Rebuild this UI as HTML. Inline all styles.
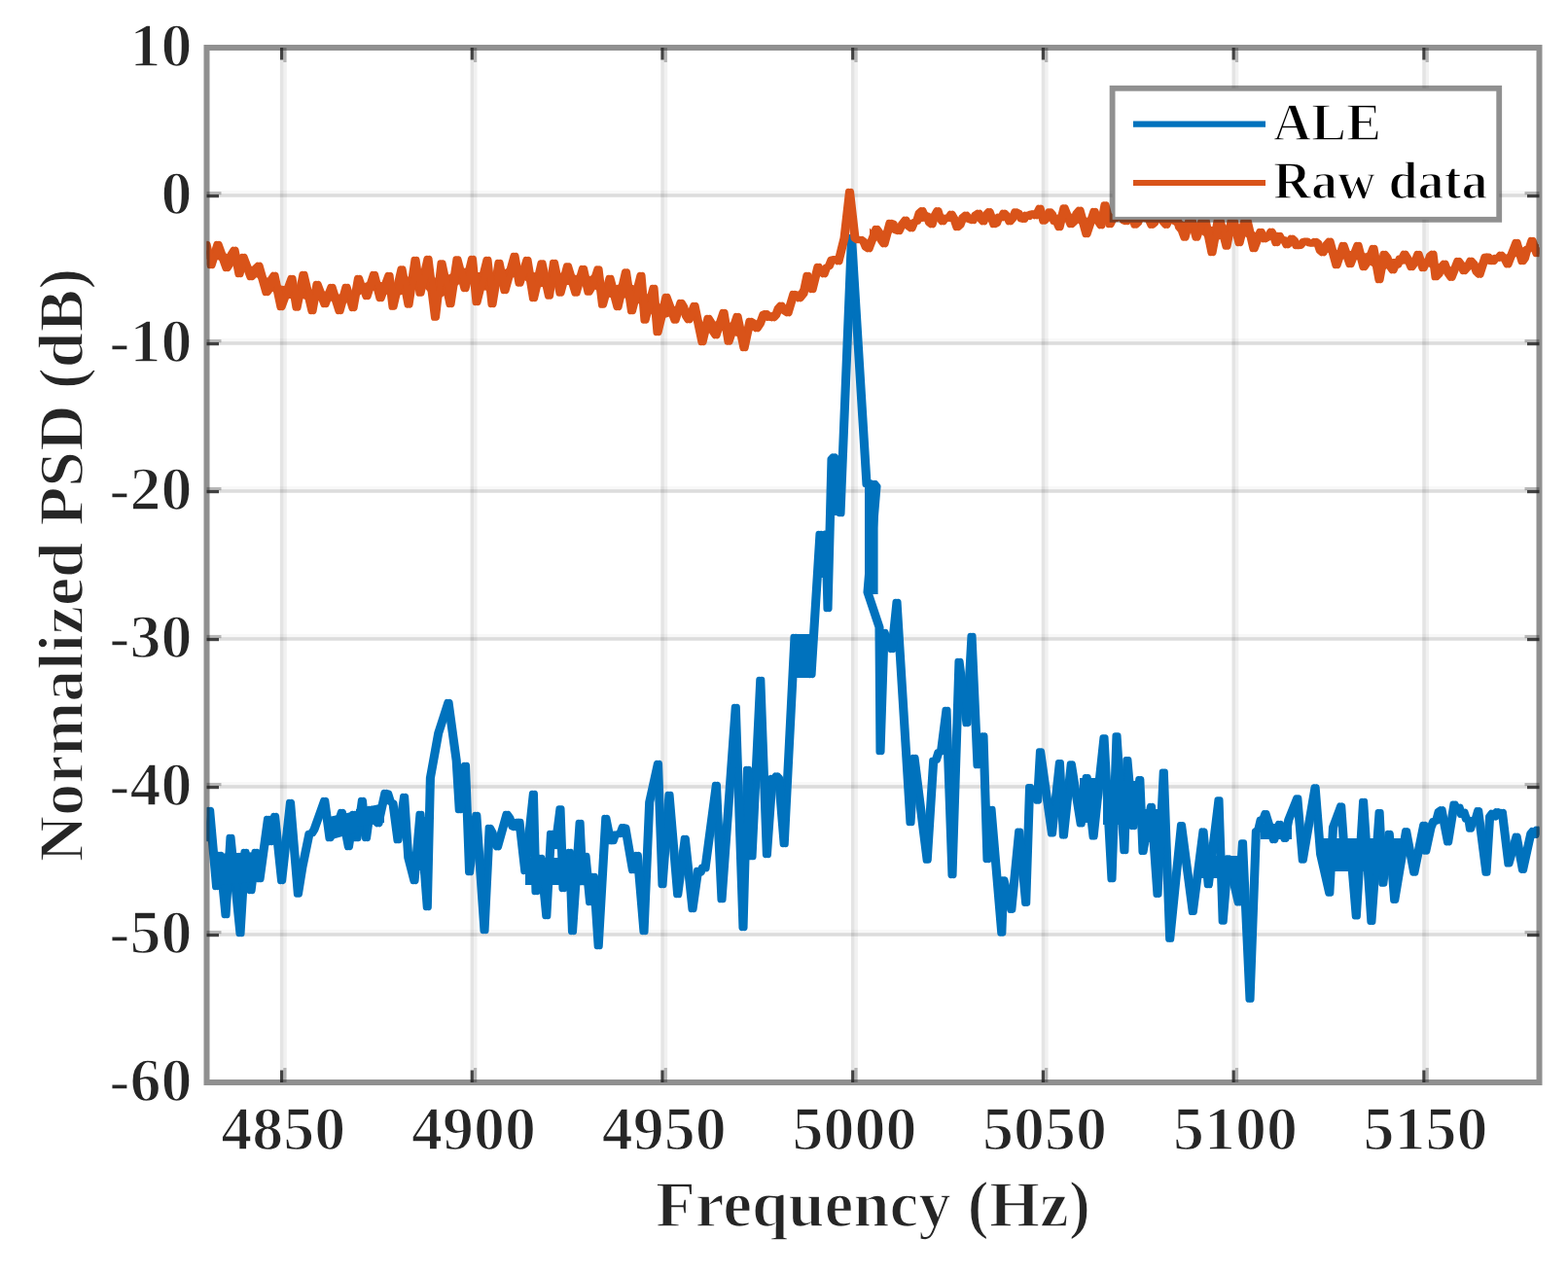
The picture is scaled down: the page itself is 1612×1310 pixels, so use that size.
<!DOCTYPE html>
<html><head><meta charset="utf-8"><title>Normalized PSD</title><style>
html,body{margin:0;padding:0;background:#fff;}
svg{display:block;}
.gv{stroke:#262626;stroke-opacity:0.124;stroke-width:3.4;}
.gl{stroke:#262626;stroke-opacity:0.065;stroke-width:3.6;}
.gd{stroke:#262626;stroke-opacity:0.16;stroke-width:3.6;}
.gl2{stroke:#262626;stroke-opacity:0.03;stroke-width:3.4;}
.t{stroke:#262626;stroke-opacity:0.85;stroke-width:3.2;}
.tl{stroke:#262626;stroke-opacity:0.3;stroke-width:3.2;}
.o{fill:none;stroke:#D95319;stroke-width:6.5;stroke-linejoin:round;}
.b{fill:none;stroke:#0072BD;stroke-width:6.5;stroke-linejoin:round;}
text{font-family:"Liberation Serif","Times New Roman",serif;font-weight:bold;fill:#262626;stroke:#fff;stroke-width:1.6px;paint-order:fill;}
.xl{font-size:64px;text-anchor:middle;}
.yl{font-size:64px;text-anchor:end;}
.lab{font-size:67px;text-anchor:middle;}
.laby{font-size:65.8px;text-anchor:middle;}
.lg{font-size:54px;fill:#000;}
</style></head><body>
<svg width="1612" height="1310" viewBox="0 0 1612 1310">
<rect width="1612" height="1310" fill="#fff"/>
<line x1="293.0" y1="49.0" x2="293.0" y2="1113.0" class="gl"/><line x1="289.6" y1="49.0" x2="289.6" y2="1113.0" class="gv"/><line x1="488.7" y1="49.0" x2="488.7" y2="1113.0" class="gl"/><line x1="485.3" y1="49.0" x2="485.3" y2="1113.0" class="gv"/><line x1="684.4" y1="49.0" x2="684.4" y2="1113.0" class="gl"/><line x1="681.0" y1="49.0" x2="681.0" y2="1113.0" class="gv"/><line x1="880.1" y1="49.0" x2="880.1" y2="1113.0" class="gl"/><line x1="876.7" y1="49.0" x2="876.7" y2="1113.0" class="gv"/><line x1="1075.8" y1="49.0" x2="1075.8" y2="1113.0" class="gl"/><line x1="1072.4" y1="49.0" x2="1072.4" y2="1113.0" class="gv"/><line x1="1271.6" y1="49.0" x2="1271.6" y2="1113.0" class="gl"/><line x1="1268.2" y1="49.0" x2="1268.2" y2="1113.0" class="gv"/><line x1="1467.3" y1="49.0" x2="1467.3" y2="1113.0" class="gl"/><line x1="1463.9" y1="49.0" x2="1463.9" y2="1113.0" class="gv"/><line x1="212.5" y1="197.7" x2="1582.5" y2="197.7" class="gl2"/><line x1="212.5" y1="201.0" x2="1582.5" y2="201.0" class="gd"/><line x1="212.5" y1="349.7" x2="1582.5" y2="349.7" class="gl2"/><line x1="212.5" y1="353.0" x2="1582.5" y2="353.0" class="gd"/><line x1="212.5" y1="501.7" x2="1582.5" y2="501.7" class="gl2"/><line x1="212.5" y1="505.0" x2="1582.5" y2="505.0" class="gd"/><line x1="212.5" y1="653.7" x2="1582.5" y2="653.7" class="gl2"/><line x1="212.5" y1="657.0" x2="1582.5" y2="657.0" class="gd"/><line x1="212.5" y1="805.7" x2="1582.5" y2="805.7" class="gl2"/><line x1="212.5" y1="809.0" x2="1582.5" y2="809.0" class="gd"/><line x1="212.5" y1="957.7" x2="1582.5" y2="957.7" class="gl2"/><line x1="212.5" y1="961.0" x2="1582.5" y2="961.0" class="gd"/>
<clipPath id="c"><rect x="212.5" y="49.0" width="1370.0" height="1064.0"/></clipPath>
<g clip-path="url(#c)"><g transform="translate(-1.3,0)"><polyline points="210.0,862.0 212.0,862.0 215.6,833.0 222.6,912.0 226.0,879.0 232.0,941.0 237.0,861.0 247.0,960.0 252.0,876.0 258.0,916.0 263.0,876.0 267.0,904.0 275.5,842.0 278.0,866.0 282.6,839.0 289.6,906.0 298.5,825.0 306.4,919.5 311.0,891.0 318.0,857.0 320.5,857.0 323.0,853.0 333.7,823.0 339.0,862.0 341.5,853.8 344.0,853.9 346.4,843.7 348.9,842.8 351.4,835.0 358.4,871.0 363.7,837.0 367.0,862.0 372.4,823.0 376.5,862.0 380.6,832.0 383.4,834.7 386.1,844.6 388.9,847.0 396.0,815.0 398.7,815.9 401.3,824.2 404.0,826.0 409.0,864.0 415.6,819.0 419.8,882.0 426.0,906.0 432.0,837.0 439.3,933.0 442.4,800.0 450.7,754.0 461.0,722.0 469.2,782.0 472.3,833.0 478.5,787.0 482.6,897.0 489.8,838.0 498.0,957.0 503.2,851.0 506.0,855.8 508.7,867.1 511.5,871.0 521.0,837.0 524.0,841.2 527.0,850.0 529.3,851.0 531.7,844.9 534.0,845.0 539.8,896.0 548.4,816.0 551.0,917.0 556.0,882.0 561.8,942.0 566.5,857.0 571.0,870.0 576.0,831.5 579.0,914.0 585.6,876.0 588.5,958.0 596.1,846.0 599.0,907.0 602.0,880.0 606.6,928.0 610.4,901.0 615.2,973.0 622.8,841.0 627.6,865.0 630.1,865.0 632.5,857.7 635.0,858.0 637.6,857.7 640.3,850.4 642.9,851.0 650.5,895.0 655.3,879.0 662.0,958.0 667.7,825.0 676.5,785.0 681.0,910.0 688.0,817.0 696.7,920.0 704.3,862.0 712.0,935.0 717.6,895.0 720.1,897.2 722.5,891.8 725.0,893.0 736.4,807.0 742.0,925.0 756.3,727.0 764.0,954.0 768.5,791.0 773.0,881.0 781.8,699.0 788.4,879.0 794.0,800.0 796.2,801.8 798.4,797.6 800.6,800.0 806.2,868.0 817.0,655.0 819.4,663.5 821.9,663.9 824.3,673.8 826.7,675.0 829.1,684.7 831.6,686.4 834.0,694.0 843.0,549.0 846.0,551.3 849.0,549.0 851.0,626.0 855.0,472.0 857.3,469.6 859.7,474.1 862.0,472.0 864.0,528.0 875.5,244.0 891.0,498.0 893.5,496.4 896.0,501.1 898.5,497.1 901.0,500.0 892.0,609.0 904.0,645.0 905.0,773.0 909.0,650.0 911.7,658.1 914.3,660.2 917.0,668.0 922.0,619.0 936.0,846.0 940.0,779.0 953.2,884.5 959.7,782.0 962.3,781.8 964.9,773.5 967.5,773.0 973.0,730.0 979.0,900.0 986.0,680.0 994.0,744.0 999.0,654.0 1005.0,787.0 1011.0,756.5 1015.0,884.0 1019.0,832.0 1029.8,959.4 1031.8,904.4 1039.8,935.6 1047.7,854.8 1054.7,928.7 1058.6,809.2 1061.3,816.5 1063.9,816.7 1066.6,823.5 1069.5,772.4 1081.5,857.3 1089.4,784.3 1093.4,859.3 1101.3,785.4 1111.2,847.3 1117.2,799.2 1124.1,860.3 1135.0,758.5 1143.0,904.0 1148.0,756.5 1155.9,875.1 1158.9,781.3 1165.0,850.0 1171.8,801.2 1175.0,875.8 1183.5,829.0 1190.0,919.7 1196.3,793.7 1202.7,965.6 1214.5,848.2 1226.3,937.8 1237.0,854.6 1242.3,910.0 1253.0,822.5 1257.2,947.5 1262.6,882.4 1273.3,928.3 1277.5,866.4 1285.0,1027.6 1291.4,854.6 1293.8,853.0 1296.2,842.7 1298.6,842.9 1301.0,836.4 1309.6,864.0 1315.5,847.0 1321.0,862.7 1324.7,843.3 1333.8,820.5 1339.3,884.5 1352.1,809.5 1357.6,878.2 1366.8,918.5 1370.5,850.7 1378.7,828.7 1383.3,892.0 1387.9,866.3 1394.3,942.3 1401.6,824.1 1409.9,947.8 1418.1,835.2 1421.8,908.5 1428.2,857.1 1433.7,925.8 1445.6,854.4 1453.8,897.5 1463.8,848.0 1465.7,875.5 1471.0,851.0 1473.8,844.2 1476.5,844.4 1479.2,834.4 1482.0,832.4 1488.6,866.3 1495.0,826.8 1497.5,832.4 1500.0,829.9 1502.5,837.7 1505.0,835.0 1507.5,842.5 1510.0,843.0 1511.5,852.5 1514.2,843.6 1517.0,842.6 1519.7,833.3 1528.0,897.5 1531.6,839.7 1534.2,836.0 1536.7,840.3 1539.3,834.5 1541.8,837.9 1544.4,835.2 1550.9,888.3 1559.1,859.9 1565.5,894.7 1573.8,857.1 1576.1,854.3 1578.3,858.5 1580.6,852.8 1582.9,854.4 1585.3,855.6 1587.6,850.3 1590.0,852.0" class="b"/></g><g transform="translate(1.3,0)"><polyline points="210.0,862.0 212.0,862.0 215.6,833.0 222.6,912.0 226.0,879.0 232.0,941.0 237.0,861.0 247.0,960.0 252.0,876.0 258.0,916.0 263.0,876.0 267.0,904.0 275.5,842.0 278.0,866.0 282.6,839.0 289.6,906.0 298.5,825.0 306.4,919.5 311.0,891.0 318.0,857.0 320.5,857.0 323.0,853.0 333.7,823.0 339.0,862.0 341.5,853.8 344.0,853.9 346.4,843.7 348.9,842.8 351.4,835.0 358.4,871.0 363.7,837.0 367.0,862.0 372.4,823.0 376.5,862.0 380.6,832.0 383.4,834.7 386.1,844.6 388.9,847.0 396.0,815.0 398.7,815.9 401.3,824.2 404.0,826.0 409.0,864.0 415.6,819.0 419.8,882.0 426.0,906.0 432.0,837.0 439.3,933.0 442.4,800.0 450.7,754.0 461.0,722.0 469.2,782.0 472.3,833.0 478.5,787.0 482.6,897.0 489.8,838.0 498.0,957.0 503.2,851.0 506.0,855.8 508.7,867.1 511.5,871.0 521.0,837.0 524.0,841.2 527.0,850.0 529.3,851.0 531.7,844.9 534.0,845.0 539.8,896.0 548.4,816.0 551.0,917.0 556.0,882.0 561.8,942.0 566.5,857.0 571.0,870.0 576.0,831.5 579.0,914.0 585.6,876.0 588.5,958.0 596.1,846.0 599.0,907.0 602.0,880.0 606.6,928.0 610.4,901.0 615.2,973.0 622.8,841.0 627.6,865.0 630.1,865.0 632.5,857.7 635.0,858.0 637.6,857.7 640.3,850.4 642.9,851.0 650.5,895.0 655.3,879.0 662.0,958.0 667.7,825.0 676.5,785.0 681.0,910.0 688.0,817.0 696.7,920.0 704.3,862.0 712.0,935.0 717.6,895.0 720.1,897.2 722.5,891.8 725.0,893.0 736.4,807.0 742.0,925.0 756.3,727.0 764.0,954.0 768.5,791.0 773.0,881.0 781.8,699.0 788.4,879.0 794.0,800.0 796.2,801.8 798.4,797.6 800.6,800.0 806.2,868.0 817.0,655.0 819.4,663.5 821.9,663.9 824.3,673.8 826.7,675.0 829.1,684.7 831.6,686.4 834.0,694.0 843.0,549.0 846.0,551.3 849.0,549.0 851.0,626.0 855.0,472.0 857.3,469.6 859.7,474.1 862.0,472.0 864.0,528.0 875.5,244.0 891.0,498.0 893.5,496.4 896.0,501.1 898.5,497.1 901.0,500.0 892.0,609.0 904.0,645.0 905.0,773.0 909.0,650.0 911.7,658.1 914.3,660.2 917.0,668.0 922.0,619.0 936.0,846.0 940.0,779.0 953.2,884.5 959.7,782.0 962.3,781.8 964.9,773.5 967.5,773.0 973.0,730.0 979.0,900.0 986.0,680.0 994.0,744.0 999.0,654.0 1005.0,787.0 1011.0,756.5 1015.0,884.0 1019.0,832.0 1029.8,959.4 1031.8,904.4 1039.8,935.6 1047.7,854.8 1054.7,928.7 1058.6,809.2 1061.3,816.5 1063.9,816.7 1066.6,823.5 1069.5,772.4 1081.5,857.3 1089.4,784.3 1093.4,859.3 1101.3,785.4 1111.2,847.3 1117.2,799.2 1124.1,860.3 1135.0,758.5 1143.0,904.0 1148.0,756.5 1155.9,875.1 1158.9,781.3 1165.0,850.0 1171.8,801.2 1175.0,875.8 1183.5,829.0 1190.0,919.7 1196.3,793.7 1202.7,965.6 1214.5,848.2 1226.3,937.8 1237.0,854.6 1242.3,910.0 1253.0,822.5 1257.2,947.5 1262.6,882.4 1273.3,928.3 1277.5,866.4 1285.0,1027.6 1291.4,854.6 1293.8,853.0 1296.2,842.7 1298.6,842.9 1301.0,836.4 1309.6,864.0 1315.5,847.0 1321.0,862.7 1324.7,843.3 1333.8,820.5 1339.3,884.5 1352.1,809.5 1357.6,878.2 1366.8,918.5 1370.5,850.7 1378.7,828.7 1383.3,892.0 1387.9,866.3 1394.3,942.3 1401.6,824.1 1409.9,947.8 1418.1,835.2 1421.8,908.5 1428.2,857.1 1433.7,925.8 1445.6,854.4 1453.8,897.5 1463.8,848.0 1465.7,875.5 1471.0,851.0 1473.8,844.2 1476.5,844.4 1479.2,834.4 1482.0,832.4 1488.6,866.3 1495.0,826.8 1497.5,832.4 1500.0,829.9 1502.5,837.7 1505.0,835.0 1507.5,842.5 1510.0,843.0 1511.5,852.5 1514.2,843.6 1517.0,842.6 1519.7,833.3 1528.0,897.5 1531.6,839.7 1534.2,836.0 1536.7,840.3 1539.3,834.5 1541.8,837.9 1544.4,835.2 1550.9,888.3 1559.1,859.9 1565.5,894.7 1573.8,857.1 1576.1,854.3 1578.3,858.5 1580.6,852.8 1582.9,854.4 1585.3,855.6 1587.6,850.3 1590.0,852.0" class="b"/></g><polygon points="815.0,652.0 835.0,652.0 835.0,697.0 815.0,697.0" fill="#0072BD"/><polygon points="840.6,547.0 852.4,547.0 855.0,628.0 848.0,628.0 846.0,594.0 840.6,594.0" fill="#0072BD"/><polygon points="852.4,469.0 866.0,469.0 866.0,530.0 852.4,530.0" fill="#0072BD"/><polygon points="889.0,498.0 902.6,498.0 902.6,611.0 889.0,611.0" fill="#0072BD"/><polygon points="218.0,878.0 270.0,876.0 270.0,906.0 218.0,911.0" fill="#0072BD"/><polygon points="338.0,840.0 366.0,834.0 366.0,856.0 338.0,864.0" fill="#0072BD"/><polygon points="366.0,832.0 395.0,826.0 395.0,846.0 366.0,850.0" fill="#0072BD"/><polygon points="428.0,840.0 444.0,840.0 444.0,895.0 428.0,895.0" fill="#0072BD"/><polygon points="540.0,882.0 606.0,882.0 606.0,910.0 540.0,910.0" fill="#0072BD"/><polygon points="1134.0,803.0 1174.0,803.0 1174.0,848.0 1134.0,848.0" fill="#0072BD"/><polygon points="1232.0,880.0 1280.0,880.0 1280.0,903.0 1232.0,903.0" fill="#0072BD"/><polygon points="1110.0,800.0 1128.0,800.0 1128.0,846.0 1110.0,846.0" fill="#0072BD"/><polygon points="1296.0,847.0 1328.0,847.0 1328.0,863.0 1296.0,863.0" fill="#0072BD"/><polygon points="1360.0,862.0 1440.0,862.0 1440.0,896.0 1360.0,896.0" fill="#0072BD"/><polygon points="1176.0,832.0 1200.0,832.0 1200.0,866.0 1176.0,866.0" fill="#0072BD"/><polygon points="212.0,257.6 214.0,257.6 216.0,257.6 218.0,257.7 220.0,257.8 222.0,257.9 224.0,258.0 226.0,258.6 228.0,259.2 230.0,259.8 232.0,260.4 234.0,261.1 236.0,261.9 238.0,262.7 240.0,263.4 242.0,264.5 244.0,265.9 246.0,267.2 248.0,268.5 250.0,269.7 252.0,270.6 254.0,271.6 256.0,272.5 258.0,273.4 260.0,274.8 262.0,276.2 264.0,277.6 266.0,279.0 268.0,280.5 270.0,281.9 272.0,283.4 274.0,284.9 276.0,286.4 278.0,287.9 280.0,289.3 282.0,290.8 284.0,291.6 286.0,292.5 288.0,293.3 290.0,293.8 292.0,294.1 294.0,294.3 296.0,294.6 298.0,294.9 300.0,295.1 302.0,294.7 304.0,294.2 306.0,293.8 308.0,293.5 310.0,293.1 312.0,292.8 314.0,293.9 316.0,295.1 318.0,296.2 320.0,297.3 322.0,298.2 324.0,298.9 326.0,299.6 328.0,299.5 330.0,299.5 332.0,299.5 334.0,299.4 336.0,300.0 338.0,300.5 340.0,301.1 342.0,301.5 344.0,301.8 346.0,302.1 348.0,302.4 350.0,302.4 352.0,302.3 354.0,302.2 356.0,302.1 358.0,300.9 360.0,299.8 362.0,298.6 364.0,297.3 366.0,295.8 368.0,294.3 370.0,293.2 372.0,292.4 374.0,291.5 376.0,290.6 378.0,290.1 380.0,289.8 382.0,289.6 384.0,289.3 386.0,289.4 388.0,289.5 390.0,289.7 392.0,290.0 394.0,290.5 396.0,291.0 398.0,291.5 400.0,292.0 402.0,291.7 404.0,291.4 406.0,290.6 408.0,289.8 410.0,289.0 412.0,288.2 414.0,287.3 416.0,286.3 418.0,285.3 420.0,284.3 422.0,282.7 424.0,281.2 426.0,279.6 428.0,278.5 430.0,277.8 432.0,277.1 434.0,277.9 436.0,278.8 438.0,279.7 440.0,280.5 442.0,281.9 444.0,283.4 446.0,284.8 448.0,285.8 450.0,285.7 452.0,285.7 454.0,285.6 456.0,284.7 458.0,283.9 460.0,283.0 462.0,282.1 464.0,281.2 466.0,280.2 468.0,279.2 470.0,278.2 472.0,277.5 474.0,276.8 476.0,276.2 478.0,275.5 480.0,276.1 482.0,276.8 484.0,277.4 486.0,278.1 488.0,278.9 490.0,279.7 492.0,279.9 494.0,280.0 496.0,280.2 498.0,280.4 500.0,280.5 502.0,280.8 504.0,281.2 506.0,281.7 508.0,281.4 510.0,281.1 512.0,280.8 514.0,280.0 516.0,278.8 518.0,277.5 520.0,276.4 522.0,275.5 524.0,274.6 526.0,273.7 528.0,272.8 530.0,272.4 532.0,272.5 534.0,272.6 536.0,273.7 538.0,274.8 540.0,275.8 542.0,276.9 544.0,277.9 546.0,278.9 548.0,279.8 550.0,280.2 552.0,280.5 554.0,280.7 556.0,280.9 558.0,281.0 560.0,280.8 562.0,280.7 564.0,280.5 566.0,280.3 568.0,280.1 570.0,280.0 572.0,280.2 574.0,280.4 576.0,280.6 578.0,280.9 580.0,281.3 582.0,281.6 584.0,282.0 586.0,282.2 588.0,282.4 590.0,282.6 592.0,282.8 594.0,283.0 596.0,283.2 598.0,283.3 600.0,283.5 602.0,283.5 604.0,283.5 606.0,283.8 608.0,284.3 610.0,284.9 612.0,285.5 614.0,286.1 616.0,287.2 618.0,288.9 620.0,290.4 622.0,291.6 624.0,292.8 626.0,294.0 628.0,294.4 630.0,293.9 632.0,293.5 634.0,293.0 636.0,292.6 638.0,292.2 640.0,291.8 642.0,291.4 644.0,291.3 646.0,291.8 648.0,292.2 650.0,292.8 652.0,293.5 654.0,294.3 656.0,295.0 658.0,295.7 660.0,297.0 662.0,298.8 664.0,300.7 666.0,302.7 668.0,304.7 670.0,306.7 672.0,308.6 674.0,310.2 676.0,311.7 678.0,312.3 680.0,312.8 682.0,313.4 684.0,313.9 686.0,314.3 688.0,314.4 690.0,314.6 692.0,314.7 694.0,314.9 696.0,315.4 698.0,315.9 700.0,316.5 702.0,316.8 704.0,317.0 706.0,317.3 708.0,317.6 710.0,318.9 712.0,320.2 714.0,321.5 716.0,323.7 718.0,326.0 720.0,328.3 722.0,330.6 724.0,331.6 726.0,332.6 728.0,333.6 730.0,332.8 732.0,331.9 734.0,331.1 736.0,330.3 738.0,330.1 740.0,329.9 742.0,329.6 744.0,329.4 746.0,330.1 748.0,330.8 750.0,331.5 752.0,332.1 754.0,332.8 756.0,333.4 758.0,334.0 760.0,334.8 762.0,335.6 764.0,336.4 766.0,336.6 768.0,336.2 770.0,335.8 772.0,334.8 774.0,333.2 776.0,331.6 778.0,329.9 780.0,328.9 782.0,327.8 784.0,326.7 786.0,325.6 788.0,324.5 790.0,323.4 792.0,322.3 794.0,321.2 796.0,320.2 798.0,319.4 800.0,318.4 802.0,317.6 804.0,316.4 806.0,314.9 808.0,313.4 810.0,311.9 812.0,309.8 814.0,307.8 816.0,305.8 818.0,303.1 820.0,300.4 822.0,297.8 824.0,295.5 826.0,293.2 828.0,290.9 830.0,288.5 832.0,287.0 834.0,285.4 836.0,283.7 838.0,281.7 840.0,279.8 842.0,278.1 844.0,276.6 846.0,275.1 848.0,273.7 850.0,272.5 852.0,271.2 854.0,270.0 854.0,273.4 852.0,274.9 850.0,276.4 848.0,277.9 846.0,279.8 844.0,281.9 842.0,284.1 840.0,286.4 838.0,288.7 836.0,291.1 834.0,293.0 832.0,294.5 830.0,295.9 828.0,297.7 826.0,299.5 824.0,301.3 822.0,303.1 820.0,305.6 818.0,308.2 816.0,310.8 814.0,313.1 812.0,315.4 810.0,317.7 808.0,318.7 806.0,319.7 804.0,320.7 802.0,321.6 800.0,322.4 798.0,323.1 796.0,323.9 794.0,324.9 792.0,326.1 790.0,327.3 788.0,328.5 786.0,329.7 784.0,330.9 782.0,332.1 780.0,333.3 778.0,334.6 776.0,337.0 774.0,339.5 772.0,341.9 770.0,344.1 768.0,346.0 766.0,347.9 764.0,348.5 762.0,347.7 760.0,346.9 758.0,346.1 756.0,345.4 754.0,344.6 752.0,343.9 750.0,343.1 748.0,342.3 746.0,341.5 744.0,340.6 742.0,340.1 740.0,339.6 738.0,339.2 736.0,338.7 734.0,339.6 732.0,340.6 730.0,341.5 728.0,342.4 726.0,342.5 724.0,342.7 722.0,342.8 720.0,340.0 718.0,337.1 716.0,334.3 714.0,331.4 712.0,329.0 710.0,326.5 708.0,324.1 706.0,324.0 704.0,324.0 702.0,323.9 700.0,323.8 698.0,323.6 696.0,323.4 694.0,323.2 692.0,324.0 690.0,324.7 688.0,325.4 686.0,326.2 684.0,326.8 682.0,327.4 680.0,327.9 678.0,328.5 676.0,329.0 674.0,327.3 672.0,325.5 670.0,323.6 668.0,321.6 666.0,319.7 664.0,317.7 662.0,316.0 660.0,314.4 658.0,313.0 656.0,311.9 654.0,310.8 652.0,309.7 650.0,308.5 648.0,307.9 646.0,307.3 644.0,306.8 642.0,306.6 640.0,306.4 638.0,306.3 636.0,306.1 634.0,306.1 632.0,306.1 630.0,306.1 628.0,306.1 626.0,305.7 624.0,305.0 622.0,304.3 620.0,303.6 618.0,302.2 616.0,300.4 614.0,298.9 612.0,297.7 610.0,296.4 608.0,295.1 606.0,293.8 604.0,293.2 602.0,293.3 600.0,293.4 598.0,293.5 596.0,293.5 594.0,293.5 592.0,293.5 590.0,293.4 588.0,293.3 586.0,293.2 584.0,293.1 582.0,293.0 580.0,292.8 578.0,292.7 576.0,292.5 574.0,292.8 572.0,293.0 570.0,293.2 568.0,293.5 566.0,293.9 564.0,294.3 562.0,294.5 560.0,294.8 558.0,295.0 556.0,295.2 554.0,295.2 552.0,295.3 550.0,295.4 548.0,295.0 546.0,293.4 544.0,291.8 542.0,290.1 540.0,288.5 538.0,286.8 536.0,285.1 534.0,283.4 532.0,283.9 530.0,284.4 528.0,285.2 526.0,286.1 524.0,287.1 522.0,288.1 520.0,289.0 518.0,290.4 516.0,292.2 514.0,293.9 512.0,295.5 510.0,296.9 508.0,298.2 506.0,299.6 504.0,299.2 502.0,298.9 500.0,298.7 498.0,298.4 496.0,298.2 494.0,298.0 492.0,297.8 490.0,297.6 488.0,295.9 486.0,294.2 484.0,292.6 482.0,291.0 480.0,289.4 478.0,287.8 476.0,289.3 474.0,290.8 472.0,292.3 470.0,293.8 468.0,295.5 466.0,297.1 464.0,298.8 462.0,300.3 460.0,301.6 458.0,303.0 456.0,304.4 454.0,305.7 452.0,306.8 450.0,307.8 448.0,308.8 446.0,307.2 444.0,304.8 442.0,302.3 440.0,299.9 438.0,297.7 436.0,295.5 434.0,293.2 432.0,291.0 430.0,292.5 428.0,293.9 426.0,295.6 424.0,297.4 422.0,299.2 420.0,301.0 418.0,301.6 416.0,302.1 414.0,302.7 412.0,303.2 410.0,303.7 408.0,304.2 406.0,304.7 404.0,305.1 402.0,304.5 400.0,303.9 398.0,303.0 396.0,302.0 394.0,301.1 392.0,300.1 390.0,299.5 388.0,299.3 386.0,299.0 384.0,298.8 382.0,298.8 380.0,298.7 378.0,298.7 376.0,299.3 374.0,300.7 372.0,302.0 370.0,303.4 368.0,304.8 366.0,306.4 364.0,308.1 362.0,309.3 360.0,310.0 358.0,310.7 356.0,311.4 354.0,311.8 352.0,312.0 350.0,312.4 348.0,312.2 346.0,311.5 344.0,310.9 342.0,310.2 340.0,309.5 338.0,308.7 336.0,308.0 334.0,307.2 332.0,307.8 330.0,308.4 328.0,309.1 326.0,309.7 324.0,310.0 322.0,310.4 320.0,310.2 318.0,309.4 316.0,308.7 314.0,308.0 312.0,307.2 310.0,307.1 308.0,307.0 306.0,306.9 304.0,306.9 302.0,307.1 300.0,307.2 298.0,307.1 296.0,307.0 294.0,306.8 292.0,306.7 290.0,306.5 288.0,305.7 286.0,304.2 284.0,302.7 282.0,301.2 280.0,299.4 278.0,297.6 276.0,295.9 274.0,294.1 272.0,292.3 270.0,290.6 268.0,288.8 266.0,287.0 264.0,285.3 262.0,283.5 260.0,281.8 258.0,280.1 256.0,279.4 254.0,278.7 252.0,278.0 250.0,277.3 248.0,276.5 246.0,275.7 244.0,274.6 242.0,273.4 240.0,272.5 238.0,271.6 236.0,270.7 234.0,269.9 232.0,269.2 230.0,268.7 228.0,268.3 226.0,267.8 224.0,267.3 222.0,267.1 220.0,266.8 218.0,266.5 216.0,266.4 214.0,266.4 212.0,266.4" fill="#D95319"/><polygon points="894.0,234.4 896.0,236.2 898.0,237.9 900.0,239.7 902.0,240.2 904.0,239.4 906.0,238.6 908.0,237.8 910.0,236.8 912.0,235.7 914.0,234.6 916.0,233.6 918.0,232.9 920.0,232.1 922.0,231.3 924.0,230.5 926.0,230.1 928.0,229.7 930.0,229.3 932.0,228.7 934.0,227.7 936.0,226.8 938.0,225.9 940.0,225.0 942.0,224.1 944.0,223.2 946.0,222.3 948.0,221.4 950.0,221.3 952.0,221.2 954.0,221.1 956.0,221.0 958.0,220.8 960.0,220.7 962.0,220.5 964.0,220.4 966.0,220.5 968.0,220.7 970.0,221.1 972.0,221.7 974.0,222.3 976.0,222.9 978.0,223.5 980.0,223.8 982.0,224.1 984.0,224.5 986.0,224.3 988.0,224.1 990.0,224.0 992.0,223.8 994.0,223.5 996.0,223.0 998.0,222.5 1000.0,222.0 1002.0,221.9 1004.0,221.7 1006.0,221.6 1008.0,221.4 1010.0,221.3 1012.0,221.2 1014.0,221.2 1016.0,221.2 1018.0,221.3 1020.0,221.6 1022.0,221.9 1024.0,221.9 1026.0,222.0 1028.0,222.0 1030.0,222.0 1032.0,222.0 1034.0,221.8 1036.0,221.5 1038.0,221.2 1040.0,220.8 1042.0,220.5 1044.0,220.2 1046.0,220.3 1048.0,220.3 1050.0,220.4 1052.0,220.5 1054.0,220.6 1056.0,220.7 1058.0,220.8 1060.0,220.9 1062.0,219.8 1064.0,218.8 1066.0,218.0 1068.0,217.5 1070.0,217.7 1072.0,218.6 1074.0,219.4 1076.0,220.1 1078.0,220.9 1080.0,221.2 1082.0,221.0 1084.0,220.9 1086.0,220.8 1088.0,220.6 1090.0,220.3 1092.0,219.8 1094.0,219.3 1096.0,219.3 1098.0,219.4 1100.0,219.5 1102.0,219.8 1104.0,220.4 1106.0,221.0 1108.0,221.6 1110.0,222.2 1112.0,222.7 1114.0,223.1 1116.0,223.6 1118.0,223.7 1120.0,223.4 1122.0,223.2 1124.0,222.9 1126.0,222.2 1128.0,221.0 1130.0,219.8 1132.0,218.6 1134.0,217.7 1136.0,216.8 1138.0,217.6 1140.0,218.4 1142.0,219.1 1144.0,219.9 1146.0,220.6 1148.0,221.4 1150.0,222.1 1152.0,222.0 1154.0,221.9 1156.0,221.8 1158.0,221.7 1160.0,221.9 1162.0,222.2 1164.0,222.4 1166.0,222.6 1168.0,222.8 1170.0,222.8 1172.0,222.8 1174.0,222.8 1176.0,222.8 1178.0,222.8 1180.0,222.8 1182.0,222.8 1184.0,222.8 1186.0,222.8 1188.0,222.8 1190.0,222.8 1192.0,222.8 1194.0,222.8 1196.0,222.8 1198.0,222.8 1200.0,223.0 1202.0,223.4 1204.0,223.8 1206.0,224.2 1208.0,224.7 1210.0,225.4 1212.0,226.0 1214.0,226.7 1216.0,227.4 1218.0,228.0 1220.0,228.3 1222.0,228.5 1224.0,228.8 1226.0,228.7 1228.0,228.6 1230.0,228.5 1232.0,228.9 1234.0,229.4 1236.0,229.9 1238.0,230.4 1240.0,231.0 1242.0,231.7 1244.0,232.4 1246.0,233.1 1248.0,232.9 1250.0,232.7 1252.0,232.6 1254.0,232.4 1256.0,232.1 1258.0,231.8 1260.0,231.6 1262.0,231.4 1264.0,231.2 1266.0,231.0 1268.0,230.9 1270.0,230.7 1272.0,230.6 1274.0,230.4 1276.0,230.6 1278.0,230.9 1280.0,231.1 1282.0,232.1 1284.0,233.8 1286.0,235.6 1288.0,237.3 1290.0,238.6 1292.0,239.6 1294.0,240.5 1296.0,241.5 1298.0,240.9 1300.0,240.4 1302.0,240.6 1304.0,240.8 1306.0,241.0 1308.0,241.6 1310.0,242.4 1312.0,243.3 1314.0,244.2 1316.0,244.8 1318.0,245.2 1320.0,245.6 1322.0,246.1 1324.0,246.5 1326.0,246.9 1328.0,247.2 1330.0,247.7 1332.0,248.2 1334.0,248.6 1336.0,248.8 1338.0,249.1 1340.0,249.4 1342.0,249.2 1344.0,249.0 1346.0,248.8 1348.0,249.1 1350.0,249.5 1352.0,249.9 1354.0,250.3 1356.0,250.7 1358.0,251.2 1360.0,251.6 1362.0,252.2 1364.0,252.7 1366.0,253.3 1368.0,254.0 1370.0,255.0 1372.0,255.9 1374.0,256.9 1376.0,257.3 1378.0,257.6 1380.0,258.0 1382.0,258.1 1384.0,258.1 1386.0,258.0 1388.0,258.0 1390.0,258.1 1392.0,258.3 1394.0,258.4 1396.0,258.5 1398.0,258.9 1400.0,259.3 1402.0,259.7 1404.0,260.4 1406.0,261.2 1408.0,261.9 1410.0,262.7 1412.0,263.4 1414.0,264.7 1416.0,265.9 1418.0,267.2 1420.0,267.5 1422.0,267.9 1424.0,267.8 1426.0,267.4 1428.0,267.0 1430.0,266.5 1432.0,266.1 1434.0,266.0 1436.0,265.9 1438.0,265.8 1440.0,265.7 1442.0,265.6 1444.0,265.5 1446.0,265.4 1448.0,265.3 1450.0,265.2 1452.0,265.2 1454.0,265.3 1456.0,265.3 1458.0,265.4 1460.0,265.4 1462.0,265.5 1464.0,265.7 1466.0,266.1 1468.0,266.5 1470.0,267.0 1472.0,267.4 1474.0,268.4 1476.0,269.9 1478.0,271.1 1480.0,272.3 1482.0,273.5 1484.0,274.7 1486.0,275.1 1488.0,274.9 1490.0,274.6 1492.0,274.3 1494.0,273.7 1496.0,273.1 1498.0,272.5 1500.0,272.1 1502.0,271.8 1504.0,271.4 1506.0,271.4 1508.0,271.5 1510.0,271.6 1512.0,271.8 1514.0,271.5 1516.0,271.3 1518.0,271.0 1520.0,270.8 1522.0,270.2 1524.0,269.2 1526.0,268.3 1528.0,267.4 1530.0,266.7 1532.0,265.9 1534.0,265.2 1536.0,264.8 1538.0,264.7 1540.0,264.7 1542.0,264.6 1544.0,264.1 1546.0,263.1 1548.0,262.0 1550.0,261.0 1552.0,259.8 1554.0,258.5 1556.0,257.2 1558.0,256.0 1560.0,255.2 1562.0,254.9 1564.0,254.6 1566.0,254.2 1568.0,253.7 1570.0,253.2 1572.0,252.7 1574.0,252.2 1576.0,251.8 1578.0,251.5 1580.0,251.2 1582.0,251.2 1582.0,256.8 1580.0,256.8 1578.0,257.5 1576.0,258.3 1574.0,259.1 1572.0,259.9 1570.0,260.7 1568.0,261.5 1566.0,262.4 1564.0,263.0 1562.0,263.3 1560.0,263.7 1558.0,264.2 1556.0,265.0 1554.0,265.8 1552.0,266.5 1550.0,267.3 1548.0,267.5 1546.0,267.7 1544.0,267.9 1542.0,267.9 1540.0,267.7 1538.0,267.5 1536.0,267.3 1534.0,267.9 1532.0,269.3 1530.0,270.8 1528.0,272.2 1526.0,273.7 1524.0,275.2 1522.0,276.7 1520.0,277.4 1518.0,277.2 1516.0,277.1 1514.0,276.9 1512.0,276.8 1510.0,276.5 1508.0,276.2 1506.0,275.9 1504.0,276.1 1502.0,276.8 1500.0,277.4 1498.0,278.2 1496.0,279.0 1494.0,279.9 1492.0,280.7 1490.0,280.8 1488.0,280.9 1486.0,281.0 1484.0,280.7 1482.0,280.2 1480.0,279.6 1478.0,279.1 1476.0,278.6 1474.0,277.1 1472.0,275.9 1470.0,274.9 1468.0,273.9 1466.0,273.0 1464.0,272.0 1462.0,271.4 1460.0,271.3 1458.0,271.2 1456.0,271.1 1454.0,271.0 1452.0,270.9 1450.0,270.9 1448.0,271.1 1446.0,271.4 1444.0,271.6 1442.0,271.8 1440.0,272.0 1438.0,272.2 1436.0,272.5 1434.0,272.7 1432.0,272.9 1430.0,273.9 1428.0,274.9 1426.0,275.9 1424.0,276.9 1422.0,277.7 1420.0,278.4 1418.0,279.1 1416.0,277.6 1414.0,276.2 1412.0,274.7 1410.0,273.4 1408.0,272.2 1406.0,270.9 1404.0,269.7 1402.0,268.4 1400.0,268.0 1398.0,267.6 1396.0,267.2 1394.0,266.9 1392.0,266.6 1390.0,266.3 1388.0,266.0 1386.0,266.1 1384.0,266.2 1382.0,266.3 1380.0,266.3 1378.0,266.2 1376.0,266.2 1374.0,266.1 1372.0,264.6 1370.0,263.2 1368.0,261.7 1366.0,260.3 1364.0,259.0 1362.0,257.7 1360.0,256.4 1358.0,255.4 1356.0,254.4 1354.0,253.4 1352.0,252.4 1350.0,251.4 1348.0,250.4 1346.0,249.5 1344.0,249.8 1342.0,250.2 1340.0,250.5 1338.0,250.7 1336.0,250.8 1334.0,251.0 1332.0,250.9 1330.0,250.6 1328.0,250.2 1326.0,250.0 1324.0,249.7 1322.0,249.4 1320.0,249.0 1318.0,248.6 1316.0,248.2 1314.0,247.7 1312.0,247.2 1310.0,246.4 1308.0,245.6 1306.0,245.0 1304.0,244.5 1302.0,244.1 1300.0,243.6 1298.0,244.9 1296.0,246.1 1294.0,246.8 1292.0,247.4 1290.0,248.0 1288.0,247.8 1286.0,246.6 1284.0,245.4 1282.0,244.2 1280.0,243.3 1278.0,242.7 1276.0,242.2 1274.0,241.6 1272.0,242.0 1270.0,242.4 1268.0,242.7 1266.0,243.1 1264.0,243.5 1262.0,243.9 1260.0,244.4 1258.0,245.0 1256.0,245.6 1254.0,246.2 1252.0,246.8 1250.0,247.3 1248.0,247.9 1246.0,248.5 1244.0,247.1 1242.0,245.7 1240.0,244.3 1238.0,242.9 1236.0,241.6 1234.0,240.2 1232.0,238.9 1230.0,237.6 1228.0,237.7 1226.0,237.7 1224.0,237.8 1222.0,237.6 1220.0,237.5 1218.0,237.4 1216.0,236.4 1214.0,235.3 1212.0,234.2 1210.0,233.2 1208.0,232.1 1206.0,231.1 1204.0,230.1 1202.0,229.2 1200.0,228.2 1198.0,227.8 1196.0,227.8 1194.0,227.8 1192.0,227.8 1190.0,227.8 1188.0,227.8 1186.0,227.8 1184.0,227.8 1182.0,227.8 1180.0,227.8 1178.0,227.8 1176.0,227.8 1174.0,227.8 1172.0,227.8 1170.0,227.8 1168.0,227.8 1166.0,227.5 1164.0,226.9 1162.0,226.4 1160.0,225.8 1158.0,225.3 1156.0,225.5 1154.0,225.8 1152.0,226.0 1150.0,226.3 1148.0,226.2 1146.0,226.1 1144.0,225.9 1142.0,225.8 1140.0,225.7 1138.0,225.4 1136.0,225.2 1134.0,225.7 1132.0,226.3 1130.0,227.5 1128.0,228.6 1126.0,229.8 1124.0,230.8 1122.0,231.6 1120.0,232.4 1118.0,233.2 1116.0,233.2 1114.0,232.3 1112.0,231.4 1110.0,230.4 1108.0,229.5 1106.0,228.5 1104.0,227.5 1102.0,226.6 1100.0,226.2 1098.0,226.5 1096.0,226.7 1094.0,227.0 1092.0,227.5 1090.0,228.0 1088.0,228.0 1086.0,227.6 1084.0,227.2 1082.0,226.8 1080.0,226.4 1078.0,225.8 1076.0,225.0 1074.0,224.3 1072.0,223.3 1070.0,222.1 1068.0,221.2 1066.0,220.7 1064.0,220.7 1062.0,221.4 1060.0,222.1 1058.0,222.3 1056.0,222.5 1054.0,222.7 1052.0,222.8 1050.0,223.0 1048.0,223.3 1046.0,223.5 1044.0,223.8 1042.0,224.2 1040.0,224.7 1038.0,225.1 1036.0,225.4 1034.0,225.8 1032.0,226.1 1030.0,226.3 1028.0,226.5 1026.0,226.7 1024.0,226.9 1022.0,227.1 1020.0,226.7 1018.0,226.2 1016.0,225.8 1014.0,225.5 1012.0,225.2 1010.0,225.1 1008.0,225.0 1006.0,225.0 1004.0,224.9 1002.0,224.9 1000.0,224.9 998.0,225.6 996.0,226.3 994.0,227.0 992.0,227.6 990.0,228.2 988.0,228.8 986.0,229.3 984.0,229.9 982.0,229.3 980.0,228.7 978.0,228.1 976.0,227.4 974.0,226.7 972.0,226.0 970.0,225.3 968.0,225.0 966.0,225.3 964.0,225.5 962.0,225.9 960.0,226.3 958.0,226.7 956.0,226.9 954.0,227.2 952.0,227.4 950.0,227.7 948.0,228.0 946.0,228.6 944.0,229.2 942.0,229.8 940.0,230.4 938.0,231.0 936.0,231.6 934.0,232.3 932.0,232.9 930.0,233.5 928.0,233.9 926.0,234.4 924.0,234.8 922.0,236.1 920.0,237.4 918.0,238.8 916.0,240.1 914.0,241.5 912.0,243.0 910.0,244.4 908.0,245.5 906.0,246.2 904.0,246.9 902.0,247.6 900.0,247.8 898.0,247.4 896.0,247.0 894.0,246.6" fill="#D95319"/><g transform="translate(-1.3,0)"><polyline points="210.0,251.0 212.0,251.0 217.0,273.0 224.0,251.0 233.0,276.0 235.7,271.8 238.3,261.2 241.0,257.0 246.0,282.0 250.0,264.0 258.0,285.0 260.7,282.4 263.3,275.6 266.0,273.0 274.0,301.0 276.7,297.1 279.3,287.0 282.0,283.0 289.0,316.0 300.0,286.0 305.0,316.5 312.0,282.0 321.0,320.0 326.0,292.0 334.0,313.0 341.0,295.0 349.0,320.0 356.0,295.0 363.0,317.0 368.5,286.0 371.3,294.2 374.2,297.1 377.0,305.0 384.5,282.0 391.0,307.0 400.0,283.0 404.0,315.5 413.0,276.5 420.0,313.5 427.0,267.0 432.0,301.5 440.0,266.0 447.5,326.5 454.0,270.5 463.0,313.0 470.0,266.5 478.0,297.0 485.5,266.0 490.0,311.0 501.0,267.0 506.0,313.0 513.0,270.0 519.0,299.0 529.0,263.0 534.0,291.5 542.0,267.0 548.5,307.0 557.0,270.5 564.5,304.5 569.5,270.0 576.0,301.5 583.5,273.5 592.0,301.5 599.5,276.0 605.0,300.5 607.5,296.4 610.0,286.6 612.5,284.3 615.0,276.5 619.5,313.5 627.0,286.0 635.0,316.0 643.5,279.5 649.5,320.0 659.0,283.0 663.0,329.5 672.0,296.0 676.0,342.0 685.0,305.0 694.0,329.5 700.0,311.0 702.7,315.5 705.3,324.7 708.0,329.0 714.0,314.0 722.0,352.0 728.0,327.0 730.7,331.3 733.3,341.0 736.0,345.0 744.0,321.0 749.0,351.5 758.0,325.0 765.0,358.0 771.0,330.0 774.5,331.8 778.0,338.0 781.5,332.7 785.0,323.0 787.5,322.2 790.0,326.7 792.5,324.4 795.0,327.0 797.7,324.0 800.3,317.0 803.0,314.0 806.5,319.7 810.0,322.0 816.0,302.0 819.0,302.9 822.0,307.0 826.0,302.0 830.0,283.0 835.0,298.0 841.0,274.0 844.0,279.7 847.0,282.0 849.7,274.9 852.3,273.8 855.0,267.0 858.5,266.2 862.0,269.0 868.0,245.0 873.5,197.0 879.0,245.0 882.0,247.0 885.0,246.0 887.7,248.0 890.3,254.3 893.0,256.0 901.0,235.0 903.7,238.9 906.3,247.4 909.0,251.0 915.0,229.0 918.0,229.8 921.0,236.9 924.0,238.0 927.5,230.5 931.0,226.0 934.0,232.6 937.0,235.0 939.8,228.4 942.5,227.7 945.2,219.0 948.0,216.5 950.5,222.1 953.0,221.7 955.5,229.0 958.0,231.0 961.0,221.6 964.0,216.5 966.5,224.4 969.0,228.0 972.0,223.9 975.0,224.7 978.0,220.0 981.0,225.1 984.0,234.0 987.0,231.4 990.0,223.5 993.0,221.0 996.5,225.8 1000.0,227.0 1003.0,220.9 1006.0,219.0 1008.5,225.3 1011.0,228.0 1014.0,220.7 1017.0,217.5 1022.0,231.0 1024.5,229.6 1027.0,222.9 1029.5,224.1 1032.0,219.0 1035.0,221.8 1038.0,228.0 1041.0,224.6 1044.0,217.5 1047.0,219.1 1050.0,225.0 1052.5,225.7 1055.0,220.8 1057.5,222.8 1060.0,220.0 1062.5,219.4 1065.0,222.0 1069.0,214.0 1073.0,227.5 1076.0,224.4 1079.0,217.5 1081.5,220.2 1084.0,227.9 1086.5,228.3 1089.0,234.0 1094.0,213.5 1101.0,231.0 1104.0,228.1 1107.0,219.4 1110.0,216.0 1117.0,241.0 1125.0,217.0 1128.5,226.7 1132.0,232.0 1136.0,210.5 1141.0,231.0 1144.0,225.1 1147.0,224.8 1150.0,219.0 1152.7,220.2 1155.3,226.9 1158.0,228.0 1160.5,221.7 1163.0,219.0 1167.0,231.5 1169.7,228.9 1172.3,221.7 1175.0,219.0 1178.0,224.9 1181.0,225.2 1184.0,231.5 1186.7,229.2 1189.3,221.8 1192.0,219.0 1195.5,227.3 1199.0,231.5 1201.7,225.4 1204.3,225.3 1207.0,219.0 1209.8,223.9 1212.5,233.7 1215.2,236.8 1218.0,244.5 1224.0,222.0 1230.0,244.5 1238.0,221.0 1246.0,260.0 1253.0,222.0 1261.0,253.5 1267.0,222.0 1274.0,250.0 1281.0,222.0 1289.0,256.0 1296.0,238.0 1300.0,246.0 1303.5,243.9 1307.0,238.0 1309.5,242.4 1312.0,250.0 1315.0,242.0 1317.7,246.9 1320.3,246.6 1323.0,252.0 1325.5,249.9 1328.0,245.0 1330.5,247.2 1333.0,253.0 1336.5,252.8 1340.0,248.5 1343.0,247.7 1346.0,250.0 1349.0,250.5 1352.0,248.0 1354.7,249.9 1357.3,257.7 1360.0,260.0 1363.5,252.0 1367.0,248.0 1374.0,273.0 1381.0,252.0 1388.0,272.0 1396.0,252.0 1402.0,275.0 1404.5,271.3 1407.0,263.4 1409.5,261.5 1412.0,255.0 1418.0,288.0 1423.0,261.0 1426.0,264.8 1429.0,273.7 1432.0,278.0 1434.4,272.4 1436.8,272.5 1439.2,265.8 1441.6,265.7 1444.0,261.0 1447.5,266.5 1451.0,275.0 1454.5,270.0 1458.0,261.0 1463.0,276.0 1465.5,270.8 1468.0,270.0 1470.5,262.8 1473.0,261.0 1476.0,285.0 1479.0,282.0 1482.0,274.3 1485.0,271.0 1488.5,280.4 1492.0,285.5 1499.0,268.0 1502.0,272.0 1505.0,279.0 1508.5,274.9 1512.0,268.0 1515.0,271.2 1518.0,279.5 1521.0,282.5 1527.0,264.0 1529.7,263.7 1532.3,268.8 1535.0,269.0 1537.7,265.0 1540.3,265.7 1543.0,262.0 1546.5,265.3 1550.0,272.0 1559.0,249.0 1565.0,269.0 1567.5,265.5 1570.0,256.0 1572.5,254.6 1575.0,247.0 1580.0,261.0 1583.0,257.5 1586.0,258.0" class="o"/></g><g transform="translate(1.3,0)"><polyline points="210.0,251.0 212.0,251.0 217.0,273.0 224.0,251.0 233.0,276.0 235.7,271.8 238.3,261.2 241.0,257.0 246.0,282.0 250.0,264.0 258.0,285.0 260.7,282.4 263.3,275.6 266.0,273.0 274.0,301.0 276.7,297.1 279.3,287.0 282.0,283.0 289.0,316.0 300.0,286.0 305.0,316.5 312.0,282.0 321.0,320.0 326.0,292.0 334.0,313.0 341.0,295.0 349.0,320.0 356.0,295.0 363.0,317.0 368.5,286.0 371.3,294.2 374.2,297.1 377.0,305.0 384.5,282.0 391.0,307.0 400.0,283.0 404.0,315.5 413.0,276.5 420.0,313.5 427.0,267.0 432.0,301.5 440.0,266.0 447.5,326.5 454.0,270.5 463.0,313.0 470.0,266.5 478.0,297.0 485.5,266.0 490.0,311.0 501.0,267.0 506.0,313.0 513.0,270.0 519.0,299.0 529.0,263.0 534.0,291.5 542.0,267.0 548.5,307.0 557.0,270.5 564.5,304.5 569.5,270.0 576.0,301.5 583.5,273.5 592.0,301.5 599.5,276.0 605.0,300.5 607.5,296.4 610.0,286.6 612.5,284.3 615.0,276.5 619.5,313.5 627.0,286.0 635.0,316.0 643.5,279.5 649.5,320.0 659.0,283.0 663.0,329.5 672.0,296.0 676.0,342.0 685.0,305.0 694.0,329.5 700.0,311.0 702.7,315.5 705.3,324.7 708.0,329.0 714.0,314.0 722.0,352.0 728.0,327.0 730.7,331.3 733.3,341.0 736.0,345.0 744.0,321.0 749.0,351.5 758.0,325.0 765.0,358.0 771.0,330.0 774.5,331.8 778.0,338.0 781.5,332.7 785.0,323.0 787.5,322.2 790.0,326.7 792.5,324.4 795.0,327.0 797.7,324.0 800.3,317.0 803.0,314.0 806.5,319.7 810.0,322.0 816.0,302.0 819.0,302.9 822.0,307.0 826.0,302.0 830.0,283.0 835.0,298.0 841.0,274.0 844.0,279.7 847.0,282.0 849.7,274.9 852.3,273.8 855.0,267.0 858.5,266.2 862.0,269.0 868.0,245.0 873.5,197.0 879.0,245.0 882.0,247.0 885.0,246.0 887.7,248.0 890.3,254.3 893.0,256.0 901.0,235.0 903.7,238.9 906.3,247.4 909.0,251.0 915.0,229.0 918.0,229.8 921.0,236.9 924.0,238.0 927.5,230.5 931.0,226.0 934.0,232.6 937.0,235.0 939.8,228.4 942.5,227.7 945.2,219.0 948.0,216.5 950.5,222.1 953.0,221.7 955.5,229.0 958.0,231.0 961.0,221.6 964.0,216.5 966.5,224.4 969.0,228.0 972.0,223.9 975.0,224.7 978.0,220.0 981.0,225.1 984.0,234.0 987.0,231.4 990.0,223.5 993.0,221.0 996.5,225.8 1000.0,227.0 1003.0,220.9 1006.0,219.0 1008.5,225.3 1011.0,228.0 1014.0,220.7 1017.0,217.5 1022.0,231.0 1024.5,229.6 1027.0,222.9 1029.5,224.1 1032.0,219.0 1035.0,221.8 1038.0,228.0 1041.0,224.6 1044.0,217.5 1047.0,219.1 1050.0,225.0 1052.5,225.7 1055.0,220.8 1057.5,222.8 1060.0,220.0 1062.5,219.4 1065.0,222.0 1069.0,214.0 1073.0,227.5 1076.0,224.4 1079.0,217.5 1081.5,220.2 1084.0,227.9 1086.5,228.3 1089.0,234.0 1094.0,213.5 1101.0,231.0 1104.0,228.1 1107.0,219.4 1110.0,216.0 1117.0,241.0 1125.0,217.0 1128.5,226.7 1132.0,232.0 1136.0,210.5 1141.0,231.0 1144.0,225.1 1147.0,224.8 1150.0,219.0 1152.7,220.2 1155.3,226.9 1158.0,228.0 1160.5,221.7 1163.0,219.0 1167.0,231.5 1169.7,228.9 1172.3,221.7 1175.0,219.0 1178.0,224.9 1181.0,225.2 1184.0,231.5 1186.7,229.2 1189.3,221.8 1192.0,219.0 1195.5,227.3 1199.0,231.5 1201.7,225.4 1204.3,225.3 1207.0,219.0 1209.8,223.9 1212.5,233.7 1215.2,236.8 1218.0,244.5 1224.0,222.0 1230.0,244.5 1238.0,221.0 1246.0,260.0 1253.0,222.0 1261.0,253.5 1267.0,222.0 1274.0,250.0 1281.0,222.0 1289.0,256.0 1296.0,238.0 1300.0,246.0 1303.5,243.9 1307.0,238.0 1309.5,242.4 1312.0,250.0 1315.0,242.0 1317.7,246.9 1320.3,246.6 1323.0,252.0 1325.5,249.9 1328.0,245.0 1330.5,247.2 1333.0,253.0 1336.5,252.8 1340.0,248.5 1343.0,247.7 1346.0,250.0 1349.0,250.5 1352.0,248.0 1354.7,249.9 1357.3,257.7 1360.0,260.0 1363.5,252.0 1367.0,248.0 1374.0,273.0 1381.0,252.0 1388.0,272.0 1396.0,252.0 1402.0,275.0 1404.5,271.3 1407.0,263.4 1409.5,261.5 1412.0,255.0 1418.0,288.0 1423.0,261.0 1426.0,264.8 1429.0,273.7 1432.0,278.0 1434.4,272.4 1436.8,272.5 1439.2,265.8 1441.6,265.7 1444.0,261.0 1447.5,266.5 1451.0,275.0 1454.5,270.0 1458.0,261.0 1463.0,276.0 1465.5,270.8 1468.0,270.0 1470.5,262.8 1473.0,261.0 1476.0,285.0 1479.0,282.0 1482.0,274.3 1485.0,271.0 1488.5,280.4 1492.0,285.5 1499.0,268.0 1502.0,272.0 1505.0,279.0 1508.5,274.9 1512.0,268.0 1515.0,271.2 1518.0,279.5 1521.0,282.5 1527.0,264.0 1529.7,263.7 1532.3,268.8 1535.0,269.0 1537.7,265.0 1540.3,265.7 1543.0,262.0 1546.5,265.3 1550.0,272.0 1559.0,249.0 1565.0,269.0 1567.5,265.5 1570.0,256.0 1572.5,254.6 1575.0,247.0 1580.0,261.0 1583.0,257.5 1586.0,258.0" class="o"/></g></g>
<line x1="292.9" y1="49.0" x2="292.9" y2="64.0" class="tl"/><line x1="289.6" y1="49.0" x2="289.6" y2="61.5" class="t"/><line x1="292.9" y1="1113.0" x2="292.9" y2="1098.0" class="tl"/><line x1="289.6" y1="1113.0" x2="289.6" y2="1100.5" class="t"/><line x1="488.6" y1="49.0" x2="488.6" y2="64.0" class="tl"/><line x1="485.3" y1="49.0" x2="485.3" y2="61.5" class="t"/><line x1="488.6" y1="1113.0" x2="488.6" y2="1098.0" class="tl"/><line x1="485.3" y1="1113.0" x2="485.3" y2="1100.5" class="t"/><line x1="684.3" y1="49.0" x2="684.3" y2="64.0" class="tl"/><line x1="681.0" y1="49.0" x2="681.0" y2="61.5" class="t"/><line x1="684.3" y1="1113.0" x2="684.3" y2="1098.0" class="tl"/><line x1="681.0" y1="1113.0" x2="681.0" y2="1100.5" class="t"/><line x1="880.0" y1="49.0" x2="880.0" y2="64.0" class="tl"/><line x1="876.7" y1="49.0" x2="876.7" y2="61.5" class="t"/><line x1="880.0" y1="1113.0" x2="880.0" y2="1098.0" class="tl"/><line x1="876.7" y1="1113.0" x2="876.7" y2="1100.5" class="t"/><line x1="1075.7" y1="49.0" x2="1075.7" y2="64.0" class="tl"/><line x1="1072.4" y1="49.0" x2="1072.4" y2="61.5" class="t"/><line x1="1075.7" y1="1113.0" x2="1075.7" y2="1098.0" class="tl"/><line x1="1072.4" y1="1113.0" x2="1072.4" y2="1100.5" class="t"/><line x1="1271.5" y1="49.0" x2="1271.5" y2="64.0" class="tl"/><line x1="1268.2" y1="49.0" x2="1268.2" y2="61.5" class="t"/><line x1="1271.5" y1="1113.0" x2="1271.5" y2="1098.0" class="tl"/><line x1="1268.2" y1="1113.0" x2="1268.2" y2="1100.5" class="t"/><line x1="1467.2" y1="49.0" x2="1467.2" y2="64.0" class="tl"/><line x1="1463.9" y1="49.0" x2="1463.9" y2="61.5" class="t"/><line x1="1467.2" y1="1113.0" x2="1467.2" y2="1098.0" class="tl"/><line x1="1463.9" y1="1113.0" x2="1463.9" y2="1100.5" class="t"/><line x1="212.5" y1="198.6" x2="227.5" y2="198.6" class="tl"/><line x1="212.5" y1="201.6" x2="225.0" y2="201.6" class="t"/><line x1="1582.5" y1="198.6" x2="1567.5" y2="198.6" class="tl"/><line x1="1582.5" y1="201.6" x2="1570.0" y2="201.6" class="t"/><line x1="212.5" y1="350.6" x2="227.5" y2="350.6" class="tl"/><line x1="212.5" y1="353.6" x2="225.0" y2="353.6" class="t"/><line x1="1582.5" y1="350.6" x2="1567.5" y2="350.6" class="tl"/><line x1="1582.5" y1="353.6" x2="1570.0" y2="353.6" class="t"/><line x1="212.5" y1="502.6" x2="227.5" y2="502.6" class="tl"/><line x1="212.5" y1="505.6" x2="225.0" y2="505.6" class="t"/><line x1="1582.5" y1="502.6" x2="1567.5" y2="502.6" class="tl"/><line x1="1582.5" y1="505.6" x2="1570.0" y2="505.6" class="t"/><line x1="212.5" y1="654.6" x2="227.5" y2="654.6" class="tl"/><line x1="212.5" y1="657.6" x2="225.0" y2="657.6" class="t"/><line x1="1582.5" y1="654.6" x2="1567.5" y2="654.6" class="tl"/><line x1="1582.5" y1="657.6" x2="1570.0" y2="657.6" class="t"/><line x1="212.5" y1="806.6" x2="227.5" y2="806.6" class="tl"/><line x1="212.5" y1="809.6" x2="225.0" y2="809.6" class="t"/><line x1="1582.5" y1="806.6" x2="1567.5" y2="806.6" class="tl"/><line x1="1582.5" y1="809.6" x2="1570.0" y2="809.6" class="t"/><line x1="212.5" y1="958.6" x2="227.5" y2="958.6" class="tl"/><line x1="212.5" y1="961.6" x2="225.0" y2="961.6" class="t"/><line x1="1582.5" y1="958.6" x2="1567.5" y2="958.6" class="tl"/><line x1="1582.5" y1="961.6" x2="1570.0" y2="961.6" class="t"/>
<rect x="212.5" y="49.0" width="1370.0" height="1064.0" fill="none" stroke="#262626" stroke-opacity="0.51" stroke-width="6"/>
<text x="291.3" y="1182.1" class="xl">4850</text><text x="487.0" y="1182.1" class="xl">4900</text><text x="682.7" y="1182.1" class="xl">4950</text><text x="878.4" y="1182.1" class="xl">5000</text><text x="1074.1" y="1182.1" class="xl">5050</text><text x="1269.9" y="1182.1" class="xl">5100</text><text x="1465.6" y="1182.1" class="xl">5150</text><text x="197.5" y="67.8" class="yl">10</text><text x="197.5" y="219.8" class="yl">0</text><text x="197.5" y="371.8" class="yl">-10</text><text x="197.5" y="523.8" class="yl">-20</text><text x="197.5" y="675.8" class="yl">-30</text><text x="197.5" y="827.8" class="yl">-40</text><text x="197.5" y="979.8" class="yl">-50</text><text x="197.5" y="1131.8" class="yl">-60</text>
<text x="897.5" y="1260.5" class="lab">Frequency (Hz)</text>
<text transform="translate(84.5,581) rotate(-90)" class="laby">Normalized PSD (dB)</text>
<rect x="1143.6" y="90.8" width="397.6" height="135" fill="#fff" stroke="#262626" stroke-opacity="0.51" stroke-width="5.8"/>
<line x1="1165" y1="127.6" x2="1301" y2="127.6" stroke="#0072BD" stroke-width="6.2"/>
<line x1="1165" y1="188" x2="1301" y2="188" stroke="#D95319" stroke-width="6.2"/>
<text x="1309" y="144.4" class="lg">ALE</text>
<text x="1309" y="203.6" class="lg">Raw data</text>
</svg>
</body></html>
